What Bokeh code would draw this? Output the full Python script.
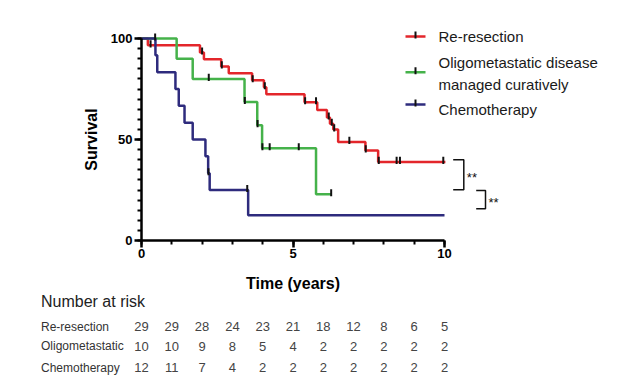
import numpy as np
from bokeh.plotting import figure
from bokeh.layouts import column
from bokeh.models import Range1d, FixedTicker
from bokeh.core.properties import value
from bokeh.embed import file_html
from bokeh.resources import INLINE

# ---------------- data ----------------
rr_times = [0.21, 1.93, 2.06, 2.63, 2.88, 3.65, 4.04, 4.12, 5.38, 5.80, 6.12, 6.22, 6.33, 6.49, 7.39, 7.81]
rr_surv = [96.6, 93.1, 89.7, 86.2, 82.8, 79.3, 75.9, 72.4, 68.4, 64.6, 60.9, 57.8, 55.0, 48.8, 44.6, 38.9]
rr_end = 10.03
rr_censor = [0.30, 2.00, 2.65, 3.67, 4.07, 5.40, 5.76, 6.18, 6.28, 6.36, 6.86, 7.40, 7.83, 8.42, 8.53, 9.96]

om_times = [1.16, 1.69, 3.40, 3.82, 3.98, 5.76]
om_surv = [90.0, 80.0, 68.6, 57.1, 45.7, 22.9]
om_end = 6.26
om_censor = [2.22, 3.41, 3.83, 3.99, 4.23, 5.19, 6.26]

ch_times = [0.46, 0.52, 1.12, 1.23, 1.42, 1.69, 2.11, 2.20, 2.25, 3.52]
ch_surv = [91.7, 83.3, 75.0, 66.7, 58.3, 50.0, 41.7, 33.3, 25.0, 12.5]
ch_end = 10.0
ch_censor = [0.45, 2.21, 3.49]

series_names = ["Re-resection", "Oligometastatic disease\nmanaged curatively", "Chemotherapy"]
series_colors = ["#E3262B", "#45B24A", "#2E2B7D"]

risk_years = [0, 1, 2, 3, 4, 5, 6, 7, 8, 9, 10]
risk_labels = ["Re-resection", "Oligometastatic", "Chemotherapy"]
risk_rr = [29, 29, 28, 24, 23, 21, 18, 12, 8, 6, 5]
risk_om = [10, 10, 9, 8, 5, 4, 2, 2, 2, 2, 2]
risk_ch = [12, 11, 7, 4, 2, 2, 2, 2, 2, 2, 2]

sig_labels = ["**", "**"]

FONT = "Liberation Sans"
PXX = 30.3   # px per year
PXY = 2.02   # px per percent
X0_PX, Y0_PX = 141, 240   # canvas position of (0, 0)
W = 620
FL, FR = 38, 616           # frame left / right (canvas px)
FT, FB = 18, 262           # frame top / bottom of KM figure (canvas px)
FW, FH = FR - FL, FB - FT
BB = 30                    # reserved bottom border of KM figure
PH = FB + BB


def px_to_y(py):
    return (Y0_PX - py) / PXY


def px_to_x(px):
    return (px - X0_PX) / PXX


# ---------------- KM figure ----------------
p = figure(width=W, height=PH, frame_width=FW, frame_height=FH,
           min_border_left=FL, min_border_right=W - FR,
           min_border_top=FT, min_border_bottom=BB,
           x_range=Range1d(px_to_x(FL), px_to_x(FR)), y_range=Range1d(px_to_y(FB), px_to_y(FT)),
           output_backend="svg", toolbar_location=None)
p.outline_line_color = None
p.grid.visible = False


def surv_at(t, times, surv):
    i = int(np.searchsorted(times, t, side="right"))
    return 100.0 if i == 0 else surv[i - 1]


curves = [(rr_times, rr_surv, rr_end, rr_censor),
          (om_times, om_surv, om_end, om_censor),
          (ch_times, ch_surv, ch_end, ch_censor)]

for (times, surv, end, cens), col in zip(curves, series_colors):
    xs = [0.0] + list(times) + [end]
    ys = [100.0] + list(surv) + [surv[-1]]
    p.step(xs, ys, mode="after", line_color=col, line_width=2.5)

for (times, surv, end, cens), col in zip(curves, series_colors):
    cy = [surv_at(t, times, surv) for t in cens]
    p.segment(x0=cens, x1=cens, y0=[v - 1.0 for v in cy], y1=[v + 2.5 for v in cy],
              line_color="#111111", line_width=2)

# legend (manual)
leg_y_line = [px_to_y(36), px_to_y(71.7), px_to_y(104)]
leg_x0, leg_x1, leg_tx = px_to_x(405), px_to_x(425), px_to_x(438)
for yy, col in zip(leg_y_line, series_colors):
    p.segment(x0=[leg_x0], x1=[leg_x1], y0=[yy], y1=[yy], line_color=col, line_width=2.5)
    p.segment(x0=[(leg_x0 + leg_x1) / 2], x1=[(leg_x0 + leg_x1) / 2], y0=[yy - 1.0], y1=[yy + 2.5],
              line_color="#111111", line_width=2)
leg_text_y = [px_to_y(36), px_to_y(73), px_to_y(108.5)]
for yy, name in zip(leg_text_y, series_names):
    p.text(x=[leg_tx], y=[yy], text=[name], text_font=value(FONT), text_font_size="15px",
           text_baseline="middle", text_align="left", text_color="#1a1a1a",
           text_line_height=1.25)

# significance brackets
br_x0 = [px_to_x(452.7), px_to_x(475.7)]
br_x1 = [px_to_x(463.3), px_to_x(485)]
br_top = [px_to_y(159.3), px_to_y(190)]
br_bot = [px_to_y(189.3), px_to_y(208.3)]
for a, b, t, u in zip(br_x0, br_x1, br_top, br_bot):
    p.multi_line(xs=[[a, b, b, a]], ys=[[t, t, u, u]], line_color="#111111", line_width=1.5)
p.text(x=[b + 0.1 for b in br_x1], y=[(t + u) / 2 - 1.5 for t, u in zip(br_top, br_bot)],
       text=sig_labels, text_font=value(FONT), text_font_size="13px",
       text_baseline="middle", text_align="left", text_color="#111111")

# y-axis title
p.text(x=[px_to_x(91)], y=[50], text=["Survival"], angle=np.pi / 2, text_font=value(FONT),
       text_font_size="16px", text_font_style="bold", text_align="center",
       text_baseline="middle", text_color="black")

# axes (drawn at x = 0 and y = 0)
p.xaxis.ticker = FixedTicker(ticks=[0, 5, 10], minor_ticks=list(range(0, 11)))
p.yaxis.ticker = FixedTicker(ticks=[0, 50, 100], minor_ticks=list(range(0, 101, 5)))
p.xaxis.bounds = (0, 10)
p.yaxis.bounds = (0, 100)
p.xaxis.fixed_location = 0
p.yaxis.fixed_location = 0
for ax in (p.xaxis[0], p.yaxis[0]):
    ax.axis_line_width = 2.5
    ax.axis_line_color = "black"
    ax.major_tick_line_width = 2.5
    ax.minor_tick_line_width = 2
    ax.major_tick_line_color = "black"
    ax.minor_tick_line_color = "black"
    ax.major_tick_in = 0
    ax.minor_tick_in = 0
    ax.major_tick_out = 7
    ax.minor_tick_out = 4
    ax.major_label_text_font = FONT
    ax.major_label_text_font_style = "bold"
    ax.major_label_text_font_size = "13px"
    ax.major_label_text_color = "black"
p.xaxis.major_label_standoff = 1
p.yaxis.major_label_standoff = 2

# ---------------- number at risk table ----------------
QH = 380 - FB
q = figure(width=W, height=QH, frame_width=FW, frame_height=QH,
           min_border_left=FL, min_border_right=W - FR,
           min_border_top=0, min_border_bottom=0,
           x_range=p.x_range, y_range=Range1d(QH, 0),
           output_backend="svg", toolbar_location=None)
q.margin = (-BB, 0, 0, 0)
q.outline_line_color = None
q.grid.visible = False
q.axis.visible = False


def qy(py):
    return py - FB


q.text(x=[5], y=[qy(283)], text=["Time (years)"], text_font=value(FONT), text_font_size="16px",
       text_font_style="bold", text_align="center", text_baseline="middle", text_color="black")
lab_x = px_to_x(40.5)
q.text(x=[lab_x], y=[qy(300.7)], text=["Number at risk"], text_font=value(FONT),
       text_font_size="16px", text_align="left", text_baseline="middle", text_color="#222222")

row_y = [qy(326), qy(345.7), qy(367.3)]
q.text(x=[lab_x] * 3, y=row_y, text=risk_labels, text_font=value(FONT), text_font_size="12px",
       text_align="left", text_baseline="middle", text_color="#333333")
for yy, vals in zip(row_y, [risk_rr, risk_om, risk_ch]):
    q.text(x=risk_years, y=[yy] * len(risk_years), text=[str(v) for v in vals],
           text_font=value(FONT), text_font_size="13px",
           text_baseline="middle", text_align="center", text_color="#444444")

layout = column(p, q, spacing=0)
open("out.html", "w").write(file_html(layout, INLINE))
